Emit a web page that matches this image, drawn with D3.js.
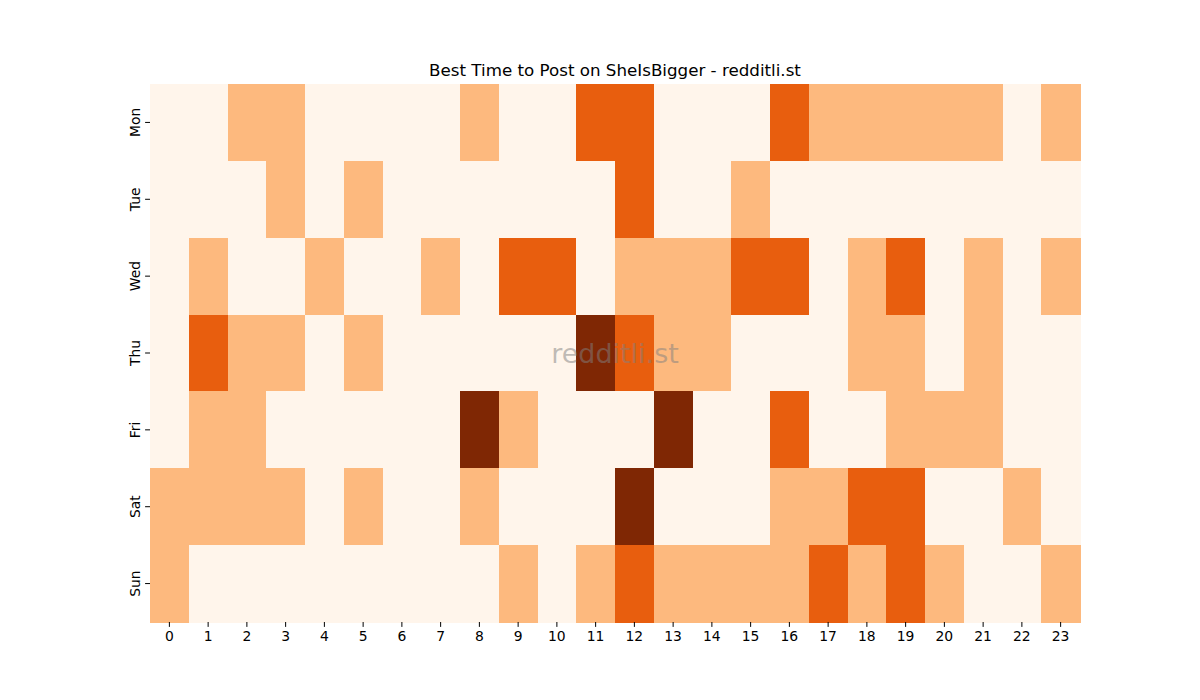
<!DOCTYPE html>
<html>
<head>
<meta charset="utf-8">
<script src="https://cdn.jsdelivr.net/npm/d3@7/dist/d3.min.js"></script>
<style>
  body { margin: 0; background: #fff; }
  svg { font-family: "DejaVu Sans", sans-serif; }
</style>
</head>
<body>
<svg id="chart" width="1200" height="700"></svg>
<script>
const days = ["Mon", "Tue", "Wed", "Thu", "Fri", "Sat", "Sun"];
const hours = d3.range(24);
const hourLabels = hours.map(String);
const mon = [0,0,1,1,0,0,0,0,1,0,0,2,2,0,0,0,2,1,1,1,1,1,0,1];
const tue = [0,0,0,1,0,1,0,0,0,0,0,0,2,0,0,1,0,0,0,0,0,0,0,0];
const wed = [0,1,0,0,1,0,0,1,0,2,2,0,1,1,1,2,2,0,1,2,0,1,0,1];
const thu = [0,2,1,1,0,1,0,0,0,0,0,3,2,1,1,0,0,0,1,1,0,1,0,0];
const fri = [0,1,1,0,0,0,0,0,3,1,0,0,0,3,0,0,2,0,0,1,1,1,0,0];
const sat = [1,1,1,1,0,1,0,0,1,0,0,0,3,0,0,0,1,1,2,2,0,0,1,0];
const sun = [1,0,0,0,0,0,0,0,0,1,0,1,2,1,1,1,1,2,1,2,1,0,0,1];
const rows = [mon, tue, wed, thu, fri, sat, sun];
const title = "Best Time to Post on SheIsBigger - redditli.st";

const cells = [];
rows.forEach((r, i) => r.forEach((v, h) => cells.push({day: days[i], hour: hourLabels[h], value: v})));

const svg = d3.select("#chart");
const margin = {left: 150, top: 84, right: 120, bottom: 78};
const W = 1200, H = 700;

const x = d3.scaleBand().domain(hourLabels).range([margin.left, W - margin.right]);
const y = d3.scaleBand().domain(days).range([margin.top, H - margin.bottom]);
const color = v => d3.interpolateOranges(v / 3);

svg.append("g").selectAll("rect").data(cells).join("rect")
  .attr("x", d => x(d.hour))
  .attr("y", d => y(d.day))
  .attr("width", x.bandwidth() + 0.5)
  .attr("height", y.bandwidth() + 0.5)
  .attr("fill", d => color(d.value))
  .attr("shape-rendering", "crispEdges");

const xAxis = svg.append("g")
  .attr("transform", `translate(0,${H - margin.bottom})`)
  .call(d3.axisBottom(x).tickSize(4.9).tickPadding(4));
xAxis.select(".domain").remove();
xAxis.selectAll("text").attr("font-size", "13.9px").attr("fill", "#000").attr("font-family", "DejaVu Sans");
xAxis.selectAll("line").attr("stroke", "#000").attr("stroke-width", 1);

const yAxis = svg.append("g")
  .attr("transform", `translate(${margin.left},0)`)
  .call(d3.axisLeft(y).tickSize(4.9).tickPadding(4));
yAxis.select(".domain").remove();
yAxis.selectAll("line").attr("stroke", "#000").attr("stroke-width", 1);
yAxis.selectAll("text")
  .attr("font-size", "13.9px").attr("fill", "#000").attr("font-family", "DejaVu Sans")
  .attr("text-anchor", "middle")
  .attr("dy", null)
  .attr("x", null)
  .attr("transform", "translate(-14,0) rotate(-90)")
  .attr("dominant-baseline", "middle");

svg.append("text")
  .attr("x", (margin.left + W - margin.right) / 2)
  .attr("y", 76)
  .attr("text-anchor", "middle")
  .attr("font-size", "16.7px")
  .attr("fill", "#000")
  .text(title);

svg.append("text")
  .attr("x", (margin.left + W - margin.right) / 2)
  .attr("y", (margin.top + H - margin.bottom) / 2)
  .attr("text-anchor", "middle")
  .attr("dominant-baseline", "central")
  .attr("font-size", "27px")
  .attr("fill", "#808080")
  .attr("fill-opacity", 0.5)
  .text("redditli.st");
</script>
</body>
</html>
